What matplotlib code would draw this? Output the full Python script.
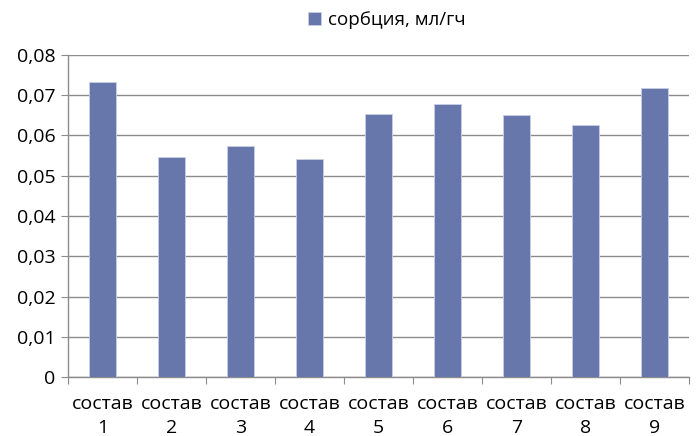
import matplotlib.pyplot as plt
import numpy as np
from matplotlib.ticker import FuncFormatter

plt.rcParams['font.family'] = ['Open Sans', 'DejaVu Sans']

categories = ["состав\n1", "состав\n2", "состав\n3", "состав\n4", "состав\n5",
              "состав\n6", "состав\n7", "состав\n8", "состав\n9"]
sorption = [0.0733, 0.0547, 0.0574, 0.0542, 0.0653, 0.0678, 0.0651, 0.0626, 0.0718]
series_name = "сорбция, мл/гч"

fig = plt.figure(figsize=(6.97, 4.36), dpi=100)
ax = fig.add_axes([68 / 697, 1 - 377 / 436, 621 / 697, 322 / 436])

x = np.arange(len(categories))
ax.bar(x, sorption, width=0.4, color='#6877ab', edgecolor='#c9cfe6',
       linewidth=0.6, label=series_name, zorder=3)

ax.set_xlim(-0.5, len(categories) - 0.5)
ax.set_ylim(0, 0.08)
ax.set_yticks(np.arange(0, 0.081, 0.01))
ax.yaxis.set_major_formatter(FuncFormatter(
    lambda v, p: "0" if abs(v) < 1e-9 else f"{v:.2f}".replace(".", ",")))
ax.grid(axis='y', color='#8c8c8c', linewidth=1, zorder=0)

# category ticks sit on the boundaries between bars
ax.set_xticks(np.arange(-0.5, len(categories), 1.0))
ax.set_xticklabels([])
ax.set_xticks(x, minor=True)
ax.set_xticklabels(categories, minor=True, fontsize=14, linespacing=1.45)
ax.tick_params(axis='x', which='minor', length=0, pad=13)
ax.tick_params(axis='x', which='major', length=5, color='#8c8c8c', direction='out')
ax.tick_params(axis='y', length=5, color='#8c8c8c', labelsize=14, pad=4)

for s in ['top', 'right']:
    ax.spines[s].set_visible(False)
for s in ['left', 'bottom']:
    ax.spines[s].set_color('#8c8c8c')
    ax.spines[s].set_linewidth(1)

fig.legend(loc='center', bbox_to_anchor=(387 / 697, 1 - 20 / 436), frameon=False,
           fontsize=13.5, handlelength=0.7, handleheight=0.7, handletextpad=0.4)

fig.savefig("out.png", dpi=100)
